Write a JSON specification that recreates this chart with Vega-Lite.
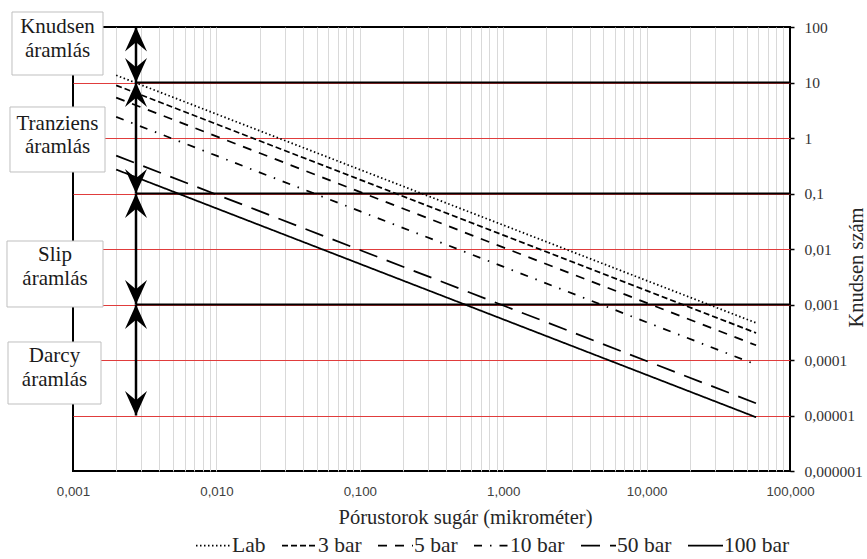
{
  "$schema": "https://vega.github.io/schema/vega-lite/v6.json",
  "width": 717,
  "height": 444,
  "autosize": {"type": "none"},
  "padding": {"left": 73, "top": 27, "right": 77, "bottom": 88},
  "background": "white",
  "config": {
    "view": {"stroke": "black", "strokeWidth": 2},
    "font": "Liberation Serif"
  },
  "datasets": {
    "sorozatok": [
      {"sorozat": "Lab", "sugar": 0.002, "kn": 13.5},
      {"sorozat": "Lab", "sugar": 0.01, "kn": 2.7},
      {"sorozat": "Lab", "sugar": 0.1, "kn": 0.27},
      {"sorozat": "Lab", "sugar": 1, "kn": 0.027},
      {"sorozat": "Lab", "sugar": 10, "kn": 0.0027},
      {"sorozat": "Lab", "sugar": 58, "kn": 0.000466},
      {"sorozat": "3 bar", "sugar": 0.002, "kn": 8.9},
      {"sorozat": "3 bar", "sugar": 0.01, "kn": 1.78},
      {"sorozat": "3 bar", "sugar": 0.1, "kn": 0.178},
      {"sorozat": "3 bar", "sugar": 1, "kn": 0.0178},
      {"sorozat": "3 bar", "sugar": 10, "kn": 0.00178},
      {"sorozat": "3 bar", "sugar": 58, "kn": 0.000307},
      {"sorozat": "5 bar", "sugar": 0.002, "kn": 5.35},
      {"sorozat": "5 bar", "sugar": 0.01, "kn": 1.07},
      {"sorozat": "5 bar", "sugar": 0.1, "kn": 0.107},
      {"sorozat": "5 bar", "sugar": 1, "kn": 0.0107},
      {"sorozat": "5 bar", "sugar": 10, "kn": 0.00107},
      {"sorozat": "5 bar", "sugar": 58, "kn": 0.000184},
      {"sorozat": "10 bar", "sugar": 0.002, "kn": 2.4},
      {"sorozat": "10 bar", "sugar": 0.01, "kn": 0.48},
      {"sorozat": "10 bar", "sugar": 0.1, "kn": 0.048},
      {"sorozat": "10 bar", "sugar": 1, "kn": 0.0048},
      {"sorozat": "10 bar", "sugar": 10, "kn": 0.00048},
      {"sorozat": "10 bar", "sugar": 58, "kn": 0.0000828},
      {"sorozat": "50 bar", "sugar": 0.002, "kn": 0.48},
      {"sorozat": "50 bar", "sugar": 0.01, "kn": 0.096},
      {"sorozat": "50 bar", "sugar": 0.1, "kn": 0.0096},
      {"sorozat": "50 bar", "sugar": 1, "kn": 0.00096},
      {"sorozat": "50 bar", "sugar": 10, "kn": 0.000096},
      {"sorozat": "50 bar", "sugar": 58, "kn": 0.0000166},
      {"sorozat": "100 bar", "sugar": 0.002, "kn": 0.27},
      {"sorozat": "100 bar", "sugar": 0.01, "kn": 0.054},
      {"sorozat": "100 bar", "sugar": 0.1, "kn": 0.0054},
      {"sorozat": "100 bar", "sugar": 1, "kn": 0.00054},
      {"sorozat": "100 bar", "sugar": 10, "kn": 0.000054},
      {"sorozat": "100 bar", "sugar": 58, "kn": 0.0000093}
    ],
    "tartomanyok": [
      {"aramlas": "Knudsen", "felso": 100, "also": 10},
      {"aramlas": "Tranziens", "felso": 10, "also": 0.1},
      {"aramlas": "Slip", "felso": 0.1, "also": 0.001},
      {"aramlas": "Darcy", "felso": 0.001, "also": 0.00001}
    ],
    "hatarok": [{"kn": 10}, {"kn": 0.1}, {"kn": 0.001}]
  },
  "layer": [
    {
      "data": {"name": "sorozatok"},
      "mark": {"type": "line", "color": "black", "strokeWidth": 1.75},
      "encoding": {
        "x": {
          "field": "sugar",
          "type": "quantitative",
          "scale": {"type": "log", "domain": [0.001, 100], "nice": false},
          "axis": {
            "title": "Pórustorok sugár (mikrométer)",
            "values": [0.001, 0.002, 0.003, 0.004, 0.005, 0.006, 0.007, 0.008, 0.009,
                       0.01, 0.02, 0.03, 0.04, 0.05, 0.06, 0.07, 0.08, 0.09,
                       0.1, 0.2, 0.3, 0.4, 0.5, 0.6, 0.7, 0.8, 0.9,
                       1, 2, 3, 4, 5, 6, 7, 8, 9,
                       10, 20, 30, 40, 50, 60, 70, 80, 90, 100],
            "labelExpr": "indexof([0.001, 0.01, 0.1, 1, 10, 100], datum.value) >= 0 ? replace(format(datum.value, '.3f'), '.', ',') : ''",
            "labelFlush": false,
            "labelOverlap": false,
            "grid": true,
            "gridColor": {"condition": {"test": "datum.value <= 0.001 || datum.value >= 100", "value": "transparent"}, "value": "#d9d9d9"},
            "gridWidth": 1,
            "domain": false,
            "ticks": false,
            "labelPadding": 13,
            "labelFont": "Liberation Sans",
            "labelFontSize": 13.3,
            "labelColor": "#404040",
            "titleFont": "Liberation Serif",
            "titleFontSize": 20.5,
            "titleFontWeight": "normal",
            "titleColor": "#262626",
            "titleX": 392,
            "titleY": 52,
            "titleBaseline": "alphabetic"
          }
        },
        "y": {
          "field": "kn",
          "type": "quantitative",
          "scale": {"type": "log", "domain": [0.000001, 100], "nice": false},
          "axis": {
            "orient": "right",
            "title": "Knudsen szám",
            "values": [0.000001, 0.00001, 0.0001, 0.001, 0.01, 0.1, 1, 10, 100],
            "labelExpr": "replace(format(datum.value, '~f'), '.', ',')",
            "labelFlush": false,
            "labelOverlap": false,
            "grid": true,
            "gridColor": {"condition": {"test": "datum.value >= 100 || datum.value <= 0.000001", "value": "transparent"}, "value": "#e03c3c"},
            "gridWidth": 1,
            "domain": false,
            "ticks": true,
            "tickColor": "black",
            "tickSize": 4,
            "tickWidth": 1.5,
            "labelPadding": 10,
            "labelFont": "Liberation Serif",
            "labelFontSize": 15.5,
            "labelColor": "#333333",
            "labelBaseline": "middle",
            "titleFont": "Liberation Serif",
            "titleFontSize": 20.5,
            "titleFontWeight": "normal",
            "titleColor": "#262626",
            "titleAngle": 270,
            "titleX": 66,
            "titleY": 240,
            "titleAlign": "center",
            "titleBaseline": "middle"
          }
        },
        "strokeDash": {
          "field": "sorozat",
          "type": "nominal",
          "scale": {
            "domain": ["Lab", "3 bar", "5 bar", "10 bar", "50 bar", "100 bar"],
            "range": [[1.5, 2.5], [6, 3], [9, 8], [8, 8, 1.5, 8], [19, 10], [1, 0]]
          },
          "legend": {
            "title": null,
            "orient": "none",
            "direction": "horizontal",
            "legendX": 122,
            "legendY": 500,
            "symbolType": "stroke",
            "symbolSize": 1225,
            "symbolStrokeColor": "black",
            "symbolStrokeWidth": 1.75,
            "labelFont": "Liberation Serif",
            "labelFontSize": 21.5,
            "labelColor": "#262626",
            "labelOffset": 0,
            "columnPadding": 12,
            "symbolOffset": 0
          }
        }
      }
    },
    {
      "data": {"name": "hatarok"},
      "mark": {"type": "rule", "color": "black", "strokeWidth": 2},
      "encoding": {
        "x": {"datum": 0.00275, "type": "quantitative"},
        "x2": {"datum": 100},
        "y": {"field": "kn", "type": "quantitative"}
      }
    },
    {
      "data": {"name": "tartomanyok"},
      "mark": {"type": "rule", "color": "black", "strokeWidth": 2.5},
      "encoding": {
        "x": {"datum": 0.00275, "type": "quantitative"},
        "y": {"field": "felso", "type": "quantitative"},
        "y2": {"field": "also"}
      }
    },
    {
      "data": {"name": "tartomanyok"},
      "mark": {"type": "point", "filled": true, "color": "black", "opacity": 1, "size": 2400,
               "shape": "M0,0 L-0.45,1 L0,0.62 L0.45,1 Z"},
      "encoding": {
        "x": {"datum": 0.00275, "type": "quantitative"},
        "y": {"field": "felso", "type": "quantitative"}
      }
    },
    {
      "data": {"name": "tartomanyok"},
      "mark": {"type": "point", "filled": true, "color": "black", "opacity": 1, "size": 2400,
               "shape": "M0,0 L-0.45,-1 L0,-0.62 L0.45,-1 Z"},
      "encoding": {
        "x": {"datum": 0.00275, "type": "quantitative"},
        "y": {"field": "also", "type": "quantitative"}
      }
    },
    {
      "data": {"values": [{}]},
      "mark": {"type": "rect", "fill": "white", "stroke": "#bfbfbf", "strokeWidth": 1, "clip": false},
      "encoding": {
        "x": {"datum": 0.0003755, "type": "quantitative"},
        "x2": {"datum": 0.001619},
        "y": {"datum": 186.3, "type": "quantitative"},
        "y2": {"datum": 13.65}
      }
    },
    {
      "data": {"values": [{}]},
      "mark": {"type": "text", "text": ["Knudsen", "áramlás"], "font": "Liberation Serif", "fontSize": 21, "lineHeight": 23.5, "color": "#1a1a1a", "align": "center", "baseline": "alphabetic"},
      "encoding": {
        "x": {"datum": 0.00078, "type": "quantitative"},
        "y": {"datum": 77.96, "type": "quantitative"}
      }
    },
    {
      "data": {"values": [{}]},
      "mark": {"type": "rect", "fill": "white", "stroke": "#bfbfbf", "strokeWidth": 1, "clip": false},
      "encoding": {
        "x": {"datum": 0.0003636, "type": "quantitative"},
        "x2": {"datum": 0.001672},
        "y": {"datum": 3.62, "type": "quantitative"},
        "y2": {"datum": 0.244}
      }
    },
    {
      "data": {"values": [{}]},
      "mark": {"type": "text", "text": ["Tranziens", "áramlás"], "font": "Liberation Serif", "fontSize": 21, "lineHeight": 23.5, "color": "#1a1a1a", "align": "center", "baseline": "alphabetic"},
      "encoding": {
        "x": {"datum": 0.00078, "type": "quantitative"},
        "y": {"datum": 1.4227, "type": "quantitative"}
      }
    },
    {
      "data": {"values": [{}]},
      "mark": {"type": "rect", "fill": "white", "stroke": "#bfbfbf", "strokeWidth": 1, "clip": false},
      "encoding": {
        "x": {"datum": 0.0003465, "type": "quantitative"},
        "x2": {"datum": 0.001619},
        "y": {"datum": 0.01393, "type": "quantitative"},
        "y2": {"datum": 0.0009015}
      }
    },
    {
      "data": {"values": [{}]},
      "mark": {"type": "text", "text": ["Slip", "áramlás"], "font": "Liberation Serif", "fontSize": 21, "lineHeight": 23.5, "color": "#1a1a1a", "align": "center", "baseline": "alphabetic"},
      "encoding": {
        "x": {"datum": 0.000749, "type": "quantitative"},
        "y": {"datum": 0.005955, "type": "quantitative"}
      }
    },
    {
      "data": {"values": [{}]},
      "mark": {"type": "rect", "fill": "white", "stroke": "#bfbfbf", "strokeWidth": 1, "clip": false},
      "encoding": {
        "x": {"datum": 0.0003522, "type": "quantitative"},
        "x2": {"datum": 0.001568},
        "y": {"datum": 0.0002111, "type": "quantitative"},
        "y2": {"datum": 0.00001611}
      }
    },
    {
      "data": {"values": [{}]},
      "mark": {"type": "text", "text": ["Darcy", "áramlás"], "font": "Liberation Serif", "fontSize": 21, "lineHeight": 23.5, "color": "#1a1a1a", "align": "center", "baseline": "alphabetic"},
      "encoding": {
        "x": {"datum": 0.000743, "type": "quantitative"},
        "y": {"datum": 0.000092, "type": "quantitative"}
      }
    }
  ]
}
